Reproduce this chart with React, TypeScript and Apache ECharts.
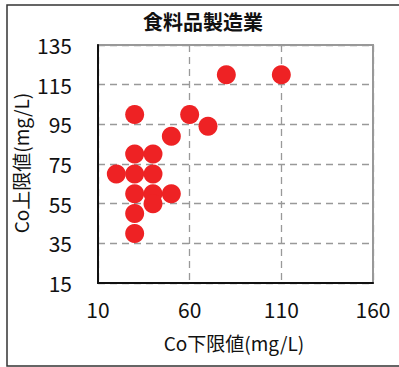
import React, { useEffect, useRef } from "react";
import * as echarts from "echarts";

const title = "食料品製造業";
const xName = "Co下限値(mg/L)";
const yName = "Co上限値(mg/L)";
const xTicks = [10, 60, 110, 160];
const yTicks = [15, 35, 55, 75, 95, 115, 135];
const lowerValues = [80, 110, 30, 60, 70, 50, 30, 40, 20, 30, 40, 30, 40, 50, 40, 30, 30];
const upperValues = [120, 120, 100, 100, 94, 89, 80, 80, 70, 70, 70, 60, 60, 60, 55, 50, 40];

const FONT = "'Noto Sans CJK JP', 'Noto Sans', sans-serif";

export default function App() {
  const ref = useRef<HTMLDivElement>(null);
  useEffect(() => {
    if (!ref.current) return;
    const chart = echarts.init(ref.current, undefined, { renderer: "svg" });
    const data = lowerValues.map((x, i) => [x, upperValues[i]]);
    chart.setOption({
      animation: false,
      backgroundColor: "#fff",
      grid: {
        left: 98,
        right: 26,
        top: 45,
        bottom: 84,
        show: true,
        borderColor: "#999",
        borderWidth: 2,
        backgroundColor: "transparent",
      },
      xAxis: {
        type: "value",
        min: xTicks[0],
        max: xTicks[xTicks.length - 1],
        interval: 50,
        axisLine: { show: true, onZero: false, lineStyle: { color: "#111", width: 2 } },
        axisTick: { show: false },
        axisLabel: { color: "#111", fontSize: 21, fontFamily: FONT, margin: 15 },
        splitLine: { show: true, lineStyle: { color: "#999", type: [7, 5], width: 1.3 } },
      },
      yAxis: {
        type: "value",
        min: yTicks[0],
        max: yTicks[yTicks.length - 1],
        interval: 20,
        axisLine: { show: true, onZero: false, lineStyle: { color: "#111", width: 2 } },
        axisTick: { show: false },
        axisLabel: { color: "#111", fontSize: 21, fontFamily: FONT, margin: 26 },
        splitLine: { show: true, lineStyle: { color: "#999", type: [7, 5], width: 1.3 } },
      },
      series: [
        {
          type: "scatter",
          data,
          symbol: "circle",
          symbolSize: 19,
          itemStyle: { color: "#EE2224", opacity: 1 },
        },
      ],
      graphic: [
        {
          type: "rect",
          shape: { x: 7, y: 5, width: 400, height: 361 },
          style: { fill: "none", stroke: "#333", lineWidth: 1.5 },
          silent: true,
          z: 100,
        },
        {
          type: "text",
          x: 203,
          y: 21,
          style: {
            text: title,
            fill: "#111",
            font: `600 20px ${FONT}`,
            align: "center",
            verticalAlign: "middle",
          },
        },
        {
          type: "text",
          x: 234,
          y: 342,
          style: {
            text: xName,
            fill: "#111",
            font: `19px ${FONT}`,
            align: "center",
            verticalAlign: "middle",
          },
        },
        {
          type: "text",
          x: 20,
          y: 163,
          rotation: Math.PI / 2,
          style: {
            text: yName,
            fill: "#111",
            font: `19px ${FONT}`,
            align: "center",
            verticalAlign: "middle",
          },
        },
      ],
    });
    return () => chart.dispose();
  }, []);
  return <div ref={ref} style={{ width: 399, height: 367, position: "absolute", left: 0, top: 0 }} />;
}
